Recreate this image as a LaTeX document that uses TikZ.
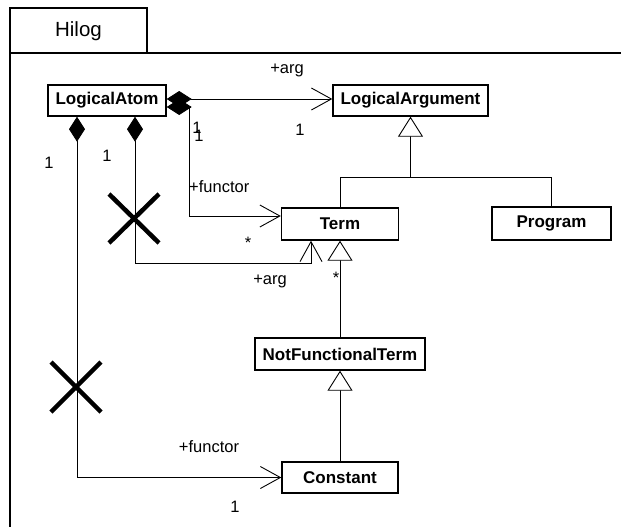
\documentclass[tikz,border=0pt]{standalone}
\usepackage{fontspec}
\setmainfont{Liberation Sans}
\usetikzlibrary{arrows.meta,calc,positioning}
\definecolor{UmlLine}{HTML}{000000}
\definecolor{UmlPaper}{HTML}{FFFFFF}

\begin{document}
\begin{tikzpicture}[x=1pt,y=-1pt,
    classbox/.style={draw=UmlLine,fill=UmlPaper,line width=1.4pt,inner sep=0pt,
      minimum height=31pt,font=\bfseries\fontsize{17}{20}\selectfont},
    rolelabel/.style={text=UmlLine,inner sep=0pt,font=\fontsize{16.5}{19}\selectfont},
    frameline/.style={UmlLine,line width=1.5pt},
    comp/.style={UmlLine,line width=0.9pt,
      {Diamond[length=25pt,width=16pt]}-{Straight Barb[length=20pt,width=22pt]}},
    gen/.style={UmlLine,line width=0.9pt,
      -{Triangle[open,fill=UmlPaper,length=20pt,width=25pt]}},
    cross/.style={UmlLine,line width=4.5pt}]
  \useasboundingbox (0,0) rectangle (621,527);

  % package frame
  \draw[frameline] (10,53) -- (10,8) -- (147,8) -- (147,53);
  \draw[frameline] (10,527) -- (10,53) -- (621,53);
  \node[text=UmlLine,inner sep=0pt,font=\fontsize{20.5}{24}\selectfont]
    (pkg) at (78.5,31) {Hilog};

  % classes
  \node[classbox,minimum width=118pt] (atom) at (107,100.5) {LogicalAtom};
  \node[classbox,minimum width=155pt] (argument) at (410.5,100.5) {LogicalArgument};
  \node[classbox,minimum width=117pt,minimum height=32pt] (term) at (340,224) {Term};
  \node[classbox,minimum width=119pt,minimum height=33pt] (program) at (551.5,223.5) {Program};
  \node[classbox,minimum width=170pt,minimum height=32pt] (notfunc) at (340,354) {NotFunctionalTerm};
  \node[classbox,minimum width=116pt] (constant) at (340,477.5) {Constant};
  \coordinate (gsplit) at (410.5,177);

  % generalizations
  \draw[gen] (term.north) |- (gsplit) -- (argument.south);
  \draw[UmlLine,line width=0.9pt] (program.north) |- (gsplit);
  \draw[gen] (notfunc.north) -- (term.south);
  \draw[gen] (constant.north) -- (notfunc.south);

  % compositions
  \draw[comp] ([yshift=1.5pt]atom.east) -- ([yshift=1.5pt]argument.west);
  \draw[comp] ([yshift=-6.5pt]atom.east) -- ++(23,0) |- ([yshift=8pt]term.west);
  \draw[comp] ([xshift=28pt]atom.south) -- ++(0,147) -| ([xshift=-29pt]term.south);
  \draw[comp] ([xshift=-30pt]atom.south) |- (constant.west);

  % non-navigable ends
  \draw[cross] (109,194) -- (159,243) (109,243) -- (159,194);
  \draw[cross] (51,362) -- (101,412) (51,412) -- (101,362);

  % role names and multiplicities
  \node[rolelabel] (argrole) at (287,70) {+arg};
  \node[rolelabel] (argmultA) at (197,128) {1};
  \node[rolelabel] (argmultB) at (199,136) {1};
  \node[rolelabel] (argmultC) at (300,130) {1};
  \node[rolelabel,anchor=west] (funrole) at (189,187) {+functor};
  \node[rolelabel] (funmult) at (248,243) {*};
  \node[rolelabel] (argroleB) at (270,281) {+arg};
  \node[rolelabel] (submult) at (336,278) {*};
  \node[rolelabel] (multL) at (49,163) {1};
  \node[rolelabel] (multM) at (107,156) {1};
  \node[rolelabel] (funroleB) at (209,447) {+functor};
  \node[rolelabel] (constmult) at (235,507) {1};
\end{tikzpicture}
\end{document}
